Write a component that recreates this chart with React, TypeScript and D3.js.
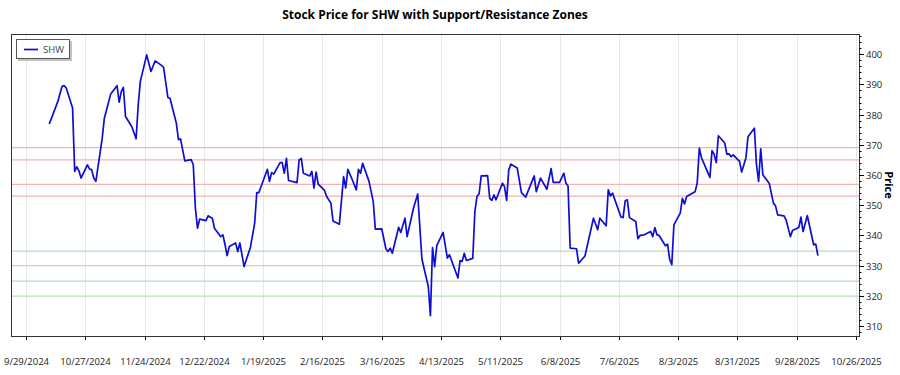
import React from "react";
import * as d3 from "d3";

const title = "Stock Price for SHW with Support/Resistance Zones";
const seriesName = "SHW";
const yAxisTitle = "Price";

const dates = [
  "2024-10-10","2024-10-14","2024-10-16","2024-10-17","2024-10-18","2024-10-21","2024-10-22","2024-10-23","2024-10-24","2024-10-25",
  "2024-10-28","2024-10-29","2024-10-30","2024-10-31","2024-11-01","2024-11-04","2024-11-05","2024-11-08","2024-11-11","2024-11-12",
  "2024-11-13","2024-11-14","2024-11-15","2024-11-18","2024-11-20","2024-11-21","2024-11-22","2024-11-25","2024-11-27","2024-11-29",
  "2024-12-02","2024-12-03","2024-12-05","2024-12-06","2024-12-09","2024-12-10","2024-12-11","2024-12-13","2024-12-16","2024-12-17",
  "2024-12-18","2024-12-19","2024-12-20","2024-12-23","2024-12-24","2024-12-26","2024-12-27","2024-12-30","2024-12-31","2025-01-01",
  "2025-01-02","2025-01-03","2025-01-06","2025-01-07","2025-01-08","2025-01-10","2025-01-13","2025-01-15","2025-01-16","2025-01-17",
  "2025-01-21","2025-01-22","2025-01-23","2025-01-24","2025-01-27","2025-01-28","2025-01-29","2025-01-30","2025-01-31","2025-02-04",
  "2025-02-05","2025-02-06","2025-02-07","2025-02-10","2025-02-11","2025-02-12","2025-02-13","2025-02-14","2025-02-17","2025-02-18",
  "2025-02-20","2025-02-21","2025-02-24","2025-02-26","2025-02-27","2025-02-28","2025-03-02","2025-03-04","2025-03-05","2025-03-06",
  "2025-03-07","2025-03-10","2025-03-12","2025-03-13","2025-03-16","2025-03-18","2025-03-19","2025-03-20","2025-03-21","2025-03-24",
  "2025-03-25","2025-03-27","2025-03-28","2025-03-31","2025-04-02","2025-04-04","2025-04-07","2025-04-08","2025-04-09","2025-04-10",
  "2025-04-11","2025-04-14","2025-04-16","2025-04-17","2025-04-21","2025-04-22","2025-04-23","2025-04-24","2025-04-25","2025-04-28",
  "2025-04-29","2025-04-30","2025-05-01","2025-05-02","2025-05-05","2025-05-06","2025-05-07","2025-05-08","2025-05-09","2025-05-12",
  "2025-05-13","2025-05-14","2025-05-15","2025-05-16","2025-05-19","2025-05-21","2025-05-23","2025-05-27","2025-05-28","2025-05-30",
  "2025-06-02","2025-06-04","2025-06-05","2025-06-08","2025-06-10","2025-06-11","2025-06-12","2025-06-13","2025-06-16","2025-06-17",
  "2025-06-20","2025-06-24","2025-06-26","2025-06-27","2025-06-30","2025-07-01","2025-07-02","2025-07-03","2025-07-07","2025-07-08",
  "2025-07-09","2025-07-10","2025-07-11","2025-07-14","2025-07-15","2025-07-16","2025-07-18","2025-07-21","2025-07-22","2025-07-23",
  "2025-07-24","2025-07-25","2025-07-28","2025-07-29","2025-07-30","2025-07-31","2025-08-01","2025-08-04","2025-08-05","2025-08-06",
  "2025-08-07","2025-08-11","2025-08-12","2025-08-13","2025-08-14","2025-08-15","2025-08-18","2025-08-19","2025-08-20","2025-08-21",
  "2025-08-22","2025-08-25","2025-08-26","2025-08-27","2025-08-28","2025-08-29","2025-09-01","2025-09-02","2025-09-04","2025-09-05",
  "2025-09-08","2025-09-09","2025-09-10","2025-09-11","2025-09-12","2025-09-15","2025-09-17","2025-09-18","2025-09-19","2025-09-22",
  "2025-09-23","2025-09-25","2025-09-26","2025-09-29","2025-09-30","2025-10-01","2025-10-03","2025-10-06","2025-10-07","2025-10-08"
];

const prices = [
  376.9,384.3,389.3,389.6,388.8,382.2,361.2,362.7,361.4,359.0,
  363.4,362.0,361.8,359.0,357.9,372.2,378.8,386.8,389.6,384.1,
  387.6,389.0,379.4,376.0,372.0,383.2,391.0,399.8,394.3,397.8,
  396.3,395.6,385.7,385.4,377.2,371.7,372.0,364.7,365.1,363.4,
  349.0,342.4,345.4,344.9,346.5,345.7,342.4,339.6,340.2,336.9,
  333.3,336.3,337.5,334.7,337.5,329.7,336.1,344.1,354.2,354.2,
  361.9,357.9,360.8,360.3,364.1,364.1,360.6,365.5,358.2,357.5,
  365.0,365.5,360.6,359.7,361.2,355.7,361.0,357.0,354.9,352.9,
  350.7,344.8,343.7,359.5,355.7,361.9,358.6,355.1,361.9,360.6,
  363.9,357.9,351.2,342.1,342.2,335.5,334.7,335.8,334.1,342.7,
  341.0,345.7,339.6,349.0,353.7,332.1,323.1,313.4,336.0,329.7,
  336.6,341.0,332.5,333.6,325.9,331.7,331.4,334.1,331.7,332.4,
  347.9,352.9,353.8,359.7,359.8,352.3,351.6,353.4,351.8,357.3,
  356.2,351.6,361.7,363.6,362.3,354.2,352.7,359.7,354.5,359.0,
  355.3,362.1,357.6,357.6,360.6,357.3,356.4,335.8,335.6,330.8,
  333.2,345.7,341.9,345.7,343.2,355.1,353.1,354.0,346.1,345.9,
  351.5,351.8,345.9,344.6,338.9,340.0,340.2,341.3,339.6,342.6,
  340.2,340.0,336.6,337.1,332.1,330.3,343.5,347.4,352.3,350.4,
  352.9,354.5,357.3,368.9,365.8,364.1,359.2,368.1,366.9,364.1,
  373.0,370.6,366.9,367.0,366.1,366.7,364.5,361.0,365.6,372.7,
  375.5,363.4,357.9,368.7,360.1,357.3,350.7,349.8,346.8,346.5,
  345.1,339.6,341.6,342.6,346.1,341.3,346.6,336.9,337.1,333.3
];

const resistanceLevels = [369.1, 365.0, 356.9, 353.0];
const supportLevels = [334.8, 330.0, 324.9, 319.9];

const xTickDates = [
  "2024-09-29","2024-10-27","2024-11-24","2024-12-22","2025-01-19","2025-02-16","2025-03-16",
  "2025-04-13","2025-05-11","2025-06-08","2025-07-06","2025-08-03","2025-08-31","2025-09-28","2025-10-26"
];
const xTickLabels = [
  "9/29/2024","10/27/2024","11/24/2024","12/22/2024","1/19/2025","2/16/2025","3/16/2025",
  "4/13/2025","5/11/2025","6/8/2025","7/6/2025","8/3/2025","8/31/2025","9/28/2025","10/26/2025"
];
const yTicks = [310, 320, 330, 340, 350, 360, 370, 380, 390, 400];
const xDomain = ["2024-09-21T22:00:00Z", "2025-10-27T10:00:00Z"];
const yDomain = [306.7, 406.7];

const W = 900, H = 375;
const left = 11, right = 859, top = 34, bottom = 336;
const FONT = "'Segoe UI', 'Open Sans', 'Noto Sans', sans-serif";

export default function App() {
  const parse = d3.utcParse("%Y-%m-%d");
  const x = d3.scaleUtc().domain(xDomain.map((s) => new Date(s))).range([left, right]);
  const y = d3.scaleLinear().domain(yDomain).range([bottom, top]);
  const data = dates.map((d, i) => ({ date: parse(d) as Date, value: prices[i] }));
  const line = d3
    .line<{ date: Date; value: number }>()
    .x((d) => x(d.date))
    .y((d) => y(d.value));
  const minorTicks = d3.range(308, 407, 2).filter((v) => v % 10 !== 0);

  return (
    <svg
      width={W}
      height={H}
      style={{ position: "absolute", left: 0, top: 0, background: "#fff" }}
      fontFamily={FONT}
    >
      <rect x={0} y={0} width={W} height={H} fill="#fff" />
      <text x={(left + right) / 2} y={19} textAnchor="middle" fontSize={12} fontWeight="bold" fill="#000">
        {title}
      </text>

      {xTickDates.map((t, i) => {
        const xx = Math.round(x(parse(t) as Date)) + 0.5;
        return (
          <g key={t}>
            <line x1={xx} x2={xx} y1={top} y2={bottom} stroke="#e8e8e8" strokeWidth={1} />
            <line x1={xx} x2={xx} y1={bottom} y2={bottom + 4} stroke="#000" strokeWidth={1} />
            <text x={xx} y={365} textAnchor="middle" fontSize={9.5} fill="#222">
              {xTickLabels[i]}
            </text>
          </g>
        );
      })}

      {resistanceLevels.map((v) => (
        <line key={"r" + v} x1={left} x2={right} y1={y(v)} y2={y(v)} stroke="#f2b3b3" strokeWidth={1.3} />
      ))}
      {supportLevels.map((v) => (
        <line key={"s" + v} x1={left} x2={right} y1={y(v)} y2={y(v)} stroke="#b8dbb8" strokeWidth={1.3} />
      ))}

      <path d={line(data) || ""} fill="none" stroke="#0d0dd6" strokeWidth={1.7} strokeLinejoin="round" />

      <rect x={left + 0.5} y={top + 0.5} width={right - left} height={bottom - top} fill="none" stroke="#333" strokeWidth={1} />

      {yTicks.map((v) => {
        const yy = Math.round(y(v)) + 0.5;
        return (
          <g key={v}>
            <line x1={right} x2={right + 5} y1={yy} y2={yy} stroke="#000" />
            <text x={866} y={yy + 3.5} fontSize={9.5} fill="#222">
              {v}
            </text>
          </g>
        );
      })}
      {minorTicks.map((v) => {
        const yy = Math.round(y(v)) + 0.5;
        return <line key={"m" + v} x1={right} x2={right + 2.5} y1={yy} y2={yy} stroke="#000" />;
      })}

      <text
        transform={`translate(885, ${(top + bottom) / 2}) rotate(90)`}
        textAnchor="middle"
        fontSize={11}
        fontWeight="bold"
        fill="#000"
      >
        {yAxisTitle}
      </text>

      <g>
        <rect x={18} y={41} width={54} height={20} fill="#999" opacity={0.6} />
        <rect x={16.5} y={39.5} width={53} height={19} fill="#fff" stroke="#555" strokeWidth={1} />
        <line x1={24} x2={38} y1={49.5} y2={49.5} stroke="#0d0dd6" strokeWidth={1.7} />
        <text x={43} y={53} fontSize={9.5} fill="#444">
          {seriesName}
        </text>
      </g>
    </svg>
  );
}
